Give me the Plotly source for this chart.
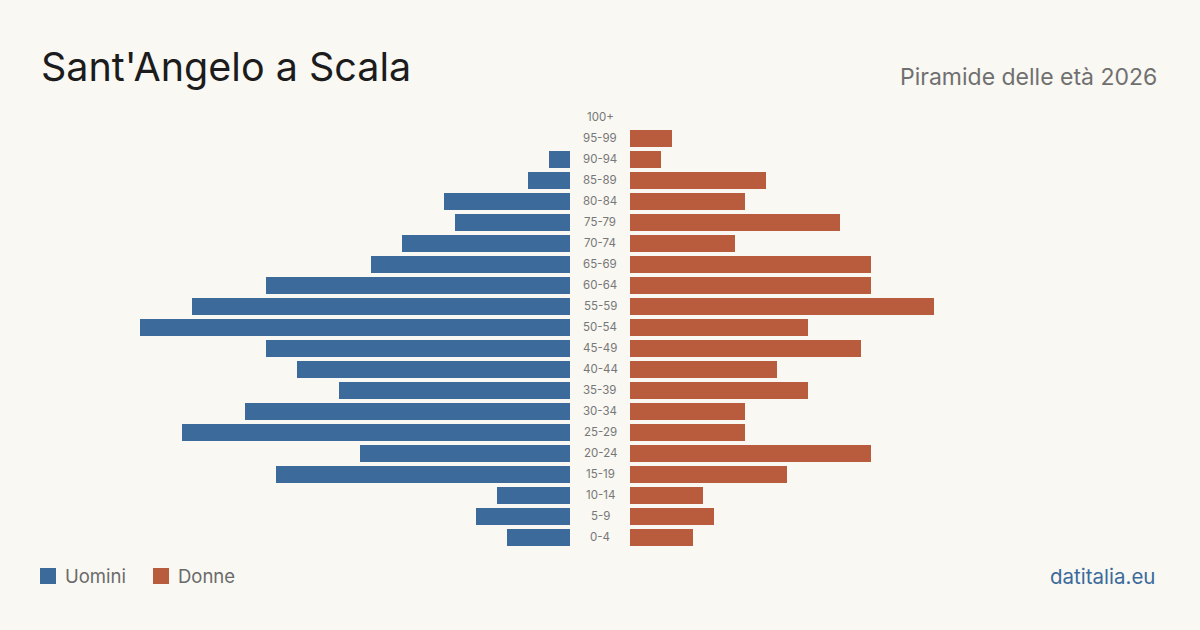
import plotly.graph_objects as go

age_groups = ["0-4", "5-9", "10-14", "15-19", "20-24", "25-29", "30-34", "35-39",
              "40-44", "45-49", "50-54", "55-59", "60-64", "65-69", "70-74",
              "75-79", "80-84", "85-89", "90-94", "95-99", "100+"]
uomini = [6, 9, 7, 28, 20, 37, 31, 22, 26, 29, 41, 36, 29, 19, 16, 11, 12, 4, 2, 0, 0]
donne = [6, 8, 7, 15, 23, 11, 11, 17, 14, 22, 17, 29, 23, 23, 10, 20, 11, 13, 3, 4, 0]

BLUE = "#3b6a9b"
ORANGE = "#b95c3d"
BG = "#f9f8f3"
FONT = "Inter"

W, H = 1200, 630
xmax = max(max(uomini), max(donne))

fig = go.Figure()
fig.add_trace(go.Bar(y=age_groups, x=uomini, orientation="h", marker_color=BLUE,
                     marker_line_width=0,
                     width=0.81, xaxis="x", yaxis="y", name="Uomini", showlegend=False,
                     hoverinfo="x+y"))
fig.add_trace(go.Bar(y=age_groups, x=donne, orientation="h", marker_color=ORANGE,
                     marker_line_width=0,
                     width=0.81, xaxis="x2", yaxis="y", name="Donne", showlegend=False,
                     hoverinfo="x+y"))

# center labels
for ag in age_groups:
    fig.add_annotation(x=600 / W, xref="paper", y=ag, yref="y", text=ag,
                       showarrow=False, xanchor="center", yanchor="middle",
                       font=dict(family=FONT, size=11.5, color="#777777"))

# title / subtitle / source
fig.add_annotation(x=39 / W, y=1 - 67 / H, xref="paper", yref="paper", text="Sant'Angelo a Scala",
                   showarrow=False, xanchor="left", yanchor="middle",
                   font=dict(family=FONT, size=39.5, color="#1c1c1c"))
fig.add_annotation(x=1159 / W, y=1 - 77 / H, xref="paper", yref="paper", text="Piramide delle età 2026",
                   showarrow=False, xanchor="right", yanchor="middle",
                   font=dict(family=FONT, size=23, color="#707070"))
fig.add_annotation(x=1157 / W, y=1 - 576 / H, xref="paper", yref="paper", text="datitalia.eu",
                   showarrow=False, xanchor="right", yanchor="middle",
                   font=dict(family=FONT, size=20.5, color="#3b6a9b"))

# legend
for x0, col, label in [(40, BLUE, "Uomini"), (153, ORANGE, "Donne")]:
    fig.add_shape(type="rect", xref="paper", yref="paper",
                  x0=x0 / W, x1=(x0 + 16) / W, y0=1 - 584 / H, y1=1 - 568 / H,
                  fillcolor=col, line_width=0)
    fig.add_annotation(x=(x0 + 23) / W, y=1 - 576 / H, xref="paper", yref="paper", text=label,
                       showarrow=False, xanchor="left", yanchor="middle",
                       font=dict(family=FONT, size=18.5, color="#6a6a6a"))

n = len(age_groups)
fig.update_layout(
    width=W, height=H,
    margin=dict(l=0, r=0, t=0, b=0),
    paper_bgcolor=BG, plot_bgcolor=BG,
    bargap=0,
    xaxis=dict(domain=[140 / W, 570 / W], range=[xmax, 0], visible=False, fixedrange=True),
    xaxis2=dict(domain=[630 / W, 1060 / W], range=[0, xmax], visible=False, fixedrange=True),
    yaxis=dict(domain=[1 - 547.5 / H, 1 - 106.5 / H], range=[-0.5, n - 0.5], visible=False,
               type="category", categoryorder="array", categoryarray=age_groups, fixedrange=True),
    showlegend=False,
)

fig.write_html("out.html")
